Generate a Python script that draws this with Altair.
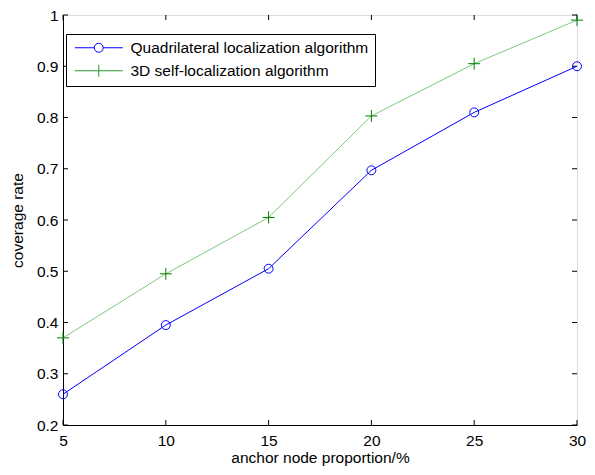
import altair as alt
import pandas as pd

# ---- data ----
x_vals = [5, 10, 15, 20, 25, 30]
quad_vals = [0.26, 0.395, 0.505, 0.697, 0.81, 0.90]
self3d_vals = [0.37, 0.495, 0.605, 0.803, 0.905, 0.99]
series_names = ["Quadrilateral localization algorithm", "3D self-localization algorithm"]
x_ticks = [5, 10, 15, 20, 25, 30]
y_ticks = [0.2, 0.3, 0.4, 0.5, 0.6, 0.7, 0.8, 0.9, 1.0]

rows = []
for xv, a, b in zip(x_vals, quad_vals, self3d_vals):
    rows.append({"x": xv, "y": a, "series": series_names[0]})
    rows.append({"x": xv, "y": b, "series": series_names[1]})
df = pd.DataFrame(rows)
df_xt = pd.DataFrame({"x": x_ticks})
df_yt = pd.DataFrame({"y": y_ticks})

W, H = 514, 410
FONT = "Liberation Sans"
FS = 15.5

xscale = alt.Scale(domain=[5, 30], nice=False, zero=False)
yscale = alt.Scale(domain=[0.2, 1.0], nice=False, zero=False)

x_axis = alt.Axis(values=x_ticks, format="~g", ticks=False, grid=False,
                  labelPadding=8.5, labelFont=FONT, labelFontSize=FS, labelColor="black",
                  title="anchor node proportion/%", titleFont=FONT, titleFontSize=FS,
                  titleFontWeight="normal", titleColor="black", titlePadding=1,
                  domainColor="black", domainWidth=1, labelFlush=False)
y_axis = alt.Axis(values=y_ticks, format="~g", ticks=False, grid=False,
                  labelPadding=5, labelFont=FONT, labelFontSize=FS, labelColor="black",
                  title="coverage rate", titleFont=FONT, titleFontSize=FS,
                  titleFontWeight="normal", titleColor="black", titlePadding=11,
                  domainColor="black", domainWidth=1, labelFlush=False)

X = alt.X("x:Q", scale=xscale, axis=x_axis)
Y = alt.Y("y:Q", scale=yscale, axis=y_axis)

PLUS = "M-1,0H1M0,-1V1"
LEG_CIRCLE = "M-1,0H2.9M4.7,0H8.6M2.9,0A0.9,0.9,0,1,1,4.7,0A0.9,0.9,0,1,1,2.9,0"
LEG_PLUS = "M-1,0H8.6M3.8,-1.2V1.2"

lines = alt.Chart(df).mark_line(strokeWidth=1).encode(
    x=X, y=Y,
    color=alt.Color("series:N", scale=alt.Scale(domain=series_names, range=["#0000ff", "#80c880"]),
                    legend=None),
)

color_pts = alt.Color("series:N", scale=alt.Scale(domain=series_names, range=["#0000ff", "#008000"]),
                      legend=None)
shape_pts = alt.Shape("series:N", scale=alt.Scale(domain=series_names, range=["circle", PLUS]),
                      legend=None)

pts_q = alt.Chart(df).transform_filter(alt.datum.series == series_names[0]).mark_point(
    filled=False, strokeWidth=1, size=80, opacity=1).encode(
    x=X, y=Y, color=color_pts, shape=shape_pts,
)
pts_s = alt.Chart(df).transform_filter(alt.datum.series == series_names[1]).mark_point(
    filled=False, strokeWidth=1, size=144, opacity=1).encode(
    x=X, y=Y, color=color_pts, shape=shape_pts,
)

# legend-only layer: no rows survive the filter, the legend comes from the explicit domains
legend = alt.Legend(
    title=None, orient="none", legendX=3, legendY=19,
    fillColor="white", strokeColor="black", padding=6,
    symbolSize=100, symbolStrokeWidth=1, symbolFillColor="transparent",
    labelOffset=43, rowPadding=5, labelFont=FONT, labelFontSize=FS, labelColor="black",
    labelLimit=400,
)
leg_layer = alt.Chart(df).transform_filter("false").mark_point(
    filled=False, strokeWidth=1, size=100, opacity=1).encode(
    x=X, y=Y,
    color=alt.Color("series:N", scale=alt.Scale(domain=series_names, range=["#0000ff", "#2a962a"]),
                    legend=legend),
    shape=alt.Shape("series:N", scale=alt.Scale(domain=series_names, range=[LEG_CIRCLE, LEG_PLUS]),
                    legend=legend),
)

TL = 5
tick_bottom = alt.Chart(df_xt).mark_rule(color="black", strokeWidth=1).encode(
    x=X, y=alt.value(H), y2=alt.value(H - TL))
tick_top = alt.Chart(df_xt).mark_rule(color="black", strokeWidth=1).encode(
    x=X, y=alt.value(0), y2=alt.value(TL))
tick_left = alt.Chart(df_yt).mark_rule(color="black", strokeWidth=1).encode(
    y=Y, x=alt.value(0), x2=alt.value(TL))
tick_right = alt.Chart(df_yt).mark_rule(color="black", strokeWidth=1).encode(
    y=Y, x=alt.value(W), x2=alt.value(W - TL))

chart = alt.layer(
    tick_bottom, tick_top, tick_left, tick_right, lines, pts_q, pts_s, leg_layer
).resolve_scale(color="independent", shape="independent").properties(
    width=W, height=H,
    autosize=alt.AutoSizeParams(type="none"),
    padding={"left": 55, "top": 7, "right": 10, "bottom": 42},
).configure_view(stroke="black", strokeWidth=1).configure(background="white")

chart.save("out.html", embed_options={"renderer": "svg", "actions": False})
